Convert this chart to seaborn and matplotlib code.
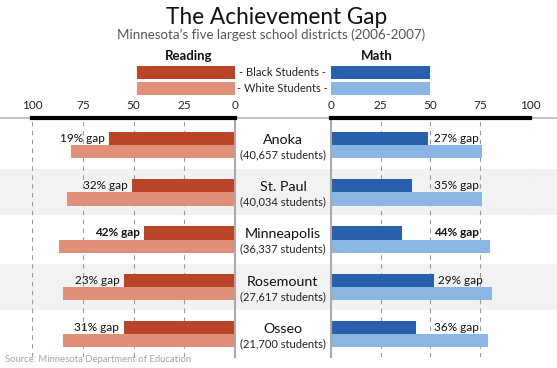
import matplotlib
matplotlib.use('Agg')
import matplotlib.pyplot as plt
from matplotlib.patches import Rectangle
import numpy as np
import pandas as pd
import seaborn as sns

# data
districts = ['Anoka', 'St. Paul', 'Minneapolis', 'Rosemount', 'Osseo']
enrollment = ['40,657', '40,034', '36,337', '27,617', '21,700']
reading_black = [62, 51, 45, 55, 55]
reading_white = [81, 83, 87, 85, 85]
reading_gap = [19, 32, 42, 23, 31]
math_black = [49, 41, 36, 52, 43]
math_white = [76, 76, 80, 81, 79]
math_gap = [27, 35, 44, 29, 36]
ticks = [0, 25, 50, 75, 100]
groups = ['Black Students', 'White Students']

RED_DARK, RED_LIGHT = '#BA4428', '#E08F79'
BLUE_DARK, BLUE_LIGHT = '#2860AE', '#8BB5E2'

sns.set_theme(style='white')
plt.rcParams['font.family'] = ['Lato', 'DejaVu Sans']

W, H = 557, 368
fig = plt.figure(figsize=(W / 100, H / 100), dpi=100)


def box(x0, y0, x1, y1):
    # pixel box (origin top-left) -> figure fraction rect
    return [x0 / W, 1 - y1 / H, (x1 - x0) / W, (y1 - y0) / H]


def ftext(x, y, s, **kw):
    fig.text(x / W, 1 - y / H, s, ha=kw.pop('ha', 'center'), va=kw.pop('va', 'center'), **kw)


top, bottom = 117.7, 356.7
ylim = (4.476, -0.577)

# background: alternating bands + district names
bg = fig.add_axes(box(0, top, W, bottom))
bg.set_xlim(0, W)
bg.set_ylim(ylim)
bg.axis('off')
for i in range(1, len(districts), 2):
    bg.axhspan(i - 0.49, i + 0.49, color='#F2F2F2', lw=0)
bg.axhline(ylim[1], color='#BDBDBD', lw=1.3, clip_on=False)
for i, (d, n) in enumerate(zip(districts, enrollment)):
    bg.text(283, i - 0.11, d, ha='center', va='center', fontsize=10.3, color='#111111')
    bg.text(283, i + 0.2, f'({n} students)', ha='center', va='center', fontsize=8, color='#222222')


def panel(ax, black, white, gaps, colors, reverse):
    df = pd.DataFrame({
        'district': districts * 2,
        'score': black + white,
        'group': [groups[0]] * len(black) + [groups[1]] * len(white),
    })
    sns.barplot(data=df, x='score', y='district', hue='group', orient='h',
                palette=colors, saturation=1, width=0.56, linewidth=0,
                legend=False, ax=ax)
    ax.set_facecolor('none')
    ax.set_xlim((100, 0) if reverse else (0, 100))
    ax.set_ylim(ylim)
    ax.set_xlabel('')
    ax.set_ylabel('')
    ax.set_yticks([])
    ax.xaxis.tick_top()
    ax.set_xticks(ticks)
    ax.tick_params(axis='x', length=0, pad=5, labelsize=8.5, labelcolor='#222222')
    ax.grid(axis='x', ls=(0, (4, 4)), color='#9A9A9A', lw=0.8)
    ax.set_axisbelow(True)
    for s in ax.spines.values():
        s.set_visible(False)
    ax.spines['top'].set_visible(True)
    ax.spines['top'].set_color('black')
    ax.spines['top'].set_linewidth(3)
    side = 'right' if reverse else 'left'
    ax.spines[side].set_visible(True)
    ax.spines[side].set_color('#AAAAAA')
    ax.spines[side].set_linewidth(1.5)
    big = int(np.argmax(gaps))
    for i, (b, g) in enumerate(zip(black, gaps)):
        w = 'bold' if i == big else 'normal'
        if reverse:
            ax.annotate(f'{g}% gap', xy=(b, i - 0.14), xytext=(-3, 0), textcoords='offset points',
                        ha='right', va='center', fontsize=8.5, fontweight=w, color='#111111')
        else:
            ax.annotate(f'{g}% gap', xy=(max(b, 50) + 1, i - 0.14), xytext=(1.5, 0), textcoords='offset points',
                        ha='left', va='center', fontsize=8.5, fontweight=w, color='#111111')


axL = fig.add_axes(box(32.3, top, 235, bottom))
panel(axL, reading_black, reading_white, reading_gap, [RED_DARK, RED_LIGHT], True)
axR = fig.add_axes(box(330.7, top, 530, bottom))
panel(axR, math_black, math_white, math_gap, [BLUE_DARK, BLUE_LIGHT], False)

# header + legend
ftext(277, 17, 'The Achievement Gap', fontsize=16.3, color='#111111')
ftext(271, 35, 'Minnesota\u2019s five largest school districts (2006-2007)', fontsize=9.6, color='#555555')
ftext(189, 56, 'Reading', fontsize=9.5, fontweight='bold', color='#111111')
ftext(377, 56, 'Math', fontsize=9.5, fontweight='bold', color='#111111')
for (x0, x1), cols in [((137.3, 235.3), (RED_DARK, RED_LIGHT)), ((330.7, 430), (BLUE_DARK, BLUE_LIGHT))]:
    for (y0, y1), c in zip([(66, 79), (82, 95)], cols):
        r = box(x0, y0, x1, y1)
        fig.patches.append(Rectangle((r[0], r[1]), r[2], r[3], transform=fig.transFigure,
                                     facecolor=c, edgecolor='none'))
ftext(282.7, 73, '- ' + groups[0] + ' -', fontsize=8, color='#222222')
ftext(282.7, 88.5, '- ' + groups[1] + ' -', fontsize=8, color='#222222')

ftext(5, 360, 'Source: Minnesota Department of Education', ha='left', fontsize=6.8, color='#A5A5A5')

fig.savefig('out.png', dpi=100)
